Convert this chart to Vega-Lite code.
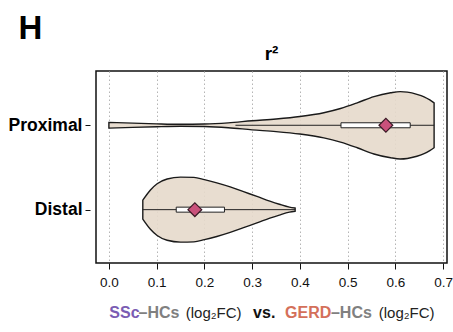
{
  "$schema": "https://vega.github.io/schema/vega-lite/v6.json",
  "width": 351,
  "height": 192,
  "padding": {"left": 8, "top": 12, "right": 5, "bottom": 5},
  "config": {
    "font": "Liberation Sans",
    "view": {"stroke": "#111111", "strokeWidth": 1.5},
    "axis": {"labelFont": "Liberation Sans", "titleFont": "Liberation Sans"}
  },
  "title": {"text": "r²", "anchor": "middle", "frame": "group", "fontSize": 19, "fontWeight": "bold", "color": "#000000", "offset": -52},
  "datasets": {
    "violin": [
      {"group": "Proximal", "v": 0.0, "lo": 1.966, "hi": 2.034},
      {"group": "Proximal", "v": 0.05, "lo": 1.975, "hi": 2.025},
      {"group": "Proximal", "v": 0.10, "lo": 1.983, "hi": 2.017},
      {"group": "Proximal", "v": 0.15, "lo": 1.988, "hi": 2.012},
      {"group": "Proximal", "v": 0.20, "lo": 1.985, "hi": 2.015},
      {"group": "Proximal", "v": 0.25, "lo": 1.971, "hi": 2.029},
      {"group": "Proximal", "v": 0.30, "lo": 1.946, "hi": 2.054},
      {"group": "Proximal", "v": 0.35, "lo": 1.925, "hi": 2.075},
      {"group": "Proximal", "v": 0.40, "lo": 1.896, "hi": 2.104},
      {"group": "Proximal", "v": 0.45, "lo": 1.851, "hi": 2.149},
      {"group": "Proximal", "v": 0.485, "lo": 1.801, "hi": 2.199},
      {"group": "Proximal", "v": 0.52, "lo": 1.734, "hi": 2.266},
      {"group": "Proximal", "v": 0.555, "lo": 1.660, "hi": 2.340},
      {"group": "Proximal", "v": 0.59, "lo": 1.615, "hi": 2.385},
      {"group": "Proximal", "v": 0.61, "lo": 1.601, "hi": 2.399},
      {"group": "Proximal", "v": 0.625, "lo": 1.607, "hi": 2.393},
      {"group": "Proximal", "v": 0.645, "lo": 1.633, "hi": 2.367},
      {"group": "Proximal", "v": 0.66, "lo": 1.663, "hi": 2.337},
      {"group": "Proximal", "v": 0.672, "lo": 1.700, "hi": 2.300},
      {"group": "Proximal", "v": 0.681, "lo": 1.734, "hi": 2.266},
      {"group": "Distal", "v": 0.071, "lo": 0.888, "hi": 1.112},
      {"group": "Distal", "v": 0.087, "lo": 0.767, "hi": 1.233},
      {"group": "Distal", "v": 0.101, "lo": 0.693, "hi": 1.307},
      {"group": "Distal", "v": 0.122, "lo": 0.637, "hi": 1.363},
      {"group": "Distal", "v": 0.15, "lo": 0.615, "hi": 1.385},
      {"group": "Distal", "v": 0.178, "lo": 0.618, "hi": 1.382},
      {"group": "Distal", "v": 0.20, "lo": 0.644, "hi": 1.356},
      {"group": "Distal", "v": 0.226, "lo": 0.682, "hi": 1.318},
      {"group": "Distal", "v": 0.254, "lo": 0.730, "hi": 1.270},
      {"group": "Distal", "v": 0.282, "lo": 0.787, "hi": 1.213},
      {"group": "Distal", "v": 0.31, "lo": 0.843, "hi": 1.157},
      {"group": "Distal", "v": 0.337, "lo": 0.899, "hi": 1.101},
      {"group": "Distal", "v": 0.357, "lo": 0.936, "hi": 1.064},
      {"group": "Distal", "v": 0.378, "lo": 0.970, "hi": 1.030},
      {"group": "Distal", "v": 0.39, "lo": 0.981, "hi": 1.019}
    ],
    "stats": [
      {"group": "Proximal", "idx": 2, "wlo": 0.265, "q1": 0.486, "med": 0.58, "q3": 0.631, "whi": 0.681},
      {"group": "Distal", "idx": 1, "wlo": 0.071, "q1": 0.141, "med": 0.18, "q3": 0.242, "whi": 0.39}
    ],
    "xtitle": [
      {"seg": "SSc", "part": "SSc", "bold": true, "tx": 0.001, "ty": -0.23},
      {"seg": "–HCs", "part": "HCs", "bold": true, "tx": 0.062, "ty": -0.23},
      {"seg": "(log₂FC)", "part": "base", "bold": false, "tx": 0.161, "ty": -0.23},
      {"seg": "vs.", "part": "vs", "bold": true, "tx": 0.302, "ty": -0.23},
      {"seg": "GERD", "part": "GERD", "bold": true, "tx": 0.369, "ty": -0.23},
      {"seg": "–HCs", "part": "HCs", "bold": true, "tx": 0.465, "ty": -0.23},
      {"seg": "(log₂FC)", "part": "base", "bold": false, "tx": 0.565, "ty": -0.23}
    ]
  },
  "layer": [
    {
      "data": {"name": "violin"},
      "mark": {"type": "area", "interpolate": "monotone", "fill": "#e6d9cb", "fillOpacity": 0.9, "stroke": "#1a1a1a", "strokeWidth": 1.4},
      "encoding": {
        "x": {"field": "v", "type": "quantitative", "scale": {"domain": [-0.027, 0.708], "nice": false, "zero": false},
              "axis": {"values": [0, 0.1, 0.2, 0.3, 0.4, 0.5, 0.6, 0.7], "format": ".1f", "title": null,
                       "labelFontSize": 13.5, "labelColor": "#111111", "labelPadding": 6, "tickSize": 6, "tickColor": "#111111", "tickWidth": 1,
                       "domain": false, "grid": true, "gridDash": [1.5, 2.5], "gridColor": "#b5b5b5", "gridWidth": 1}},
        "y": {"field": "lo", "type": "quantitative", "scale": {"domain": [0.427, 2.584], "nice": false, "zero": false},
              "axis": {"values": [1, 2], "labelExpr": "datum.value == 2 ? 'Proximal' : 'Distal'",
                       "title": "H", "titleAngle": 0, "titleFontSize": 33, "titleFontWeight": "bold", "titleColor": "#000000",
                       "titleAlign": "left", "titleBaseline": "top", "titleX": -72, "titleY": -59,
                       "labelFontSize": 17.5, "labelFontWeight": "bold", "labelColor": "#000000", "labelPadding": 3,
                       "tickSize": 5, "tickColor": "#111111", "offset": 6, "domain": false, "grid": false}},
        "y2": {"field": "hi"},
        "detail": {"field": "group", "type": "nominal"}
      }
    },
    {
      "data": {"name": "stats"},
      "mark": {"type": "rule", "stroke": "#222222", "strokeWidth": 1},
      "encoding": {
        "x": {"field": "wlo", "type": "quantitative"},
        "x2": {"field": "whi"},
        "y": {"field": "idx", "type": "quantitative"}
      }
    },
    {
      "data": {"name": "stats"},
      "mark": {"type": "bar", "size": 5, "fill": "#ffffff", "stroke": "#222222", "strokeWidth": 1},
      "encoding": {
        "x": {"field": "q1", "type": "quantitative"},
        "x2": {"field": "q3"},
        "y": {"field": "idx", "type": "quantitative"}
      }
    },
    {
      "data": {"name": "stats"},
      "mark": {"type": "point", "shape": "diamond", "filled": true, "size": 190, "fill": "#c9517b", "stroke": "#3a1a26", "strokeWidth": 1.2, "opacity": 1},
      "encoding": {
        "x": {"field": "med", "type": "quantitative"},
        "y": {"field": "idx", "type": "quantitative"}
      }
    },
    {
      "data": {"name": "xtitle"},
      "transform": [{"filter": "datum.bold"}],
      "mark": {"type": "text", "align": "left", "baseline": "middle", "fontSize": 16, "fontWeight": "bold"},
      "encoding": {
        "x": {"field": "tx", "type": "quantitative"},
        "y": {"field": "ty", "type": "quantitative"},
        "text": {"field": "seg"},
        "color": {"field": "part", "type": "nominal", "legend": null,
                  "scale": {"domain": ["SSc", "HCs", "GERD", "vs", "base"], "range": ["#7a5cb3", "#808080", "#d4705a", "#111111", "#222222"]}}
      }
    },
    {
      "data": {"name": "xtitle"},
      "transform": [{"filter": "!datum.bold"}],
      "mark": {"type": "text", "align": "left", "baseline": "middle", "fontSize": 15, "fontWeight": "normal"},
      "encoding": {
        "x": {"field": "tx", "type": "quantitative"},
        "y": {"field": "ty", "type": "quantitative"},
        "text": {"field": "seg"},
        "color": {"field": "part", "type": "nominal", "legend": null,
                  "scale": {"domain": ["SSc", "HCs", "GERD", "vs", "base"], "range": ["#7a5cb3", "#808080", "#d4705a", "#111111", "#222222"]}}
      }
    }
  ]
}
